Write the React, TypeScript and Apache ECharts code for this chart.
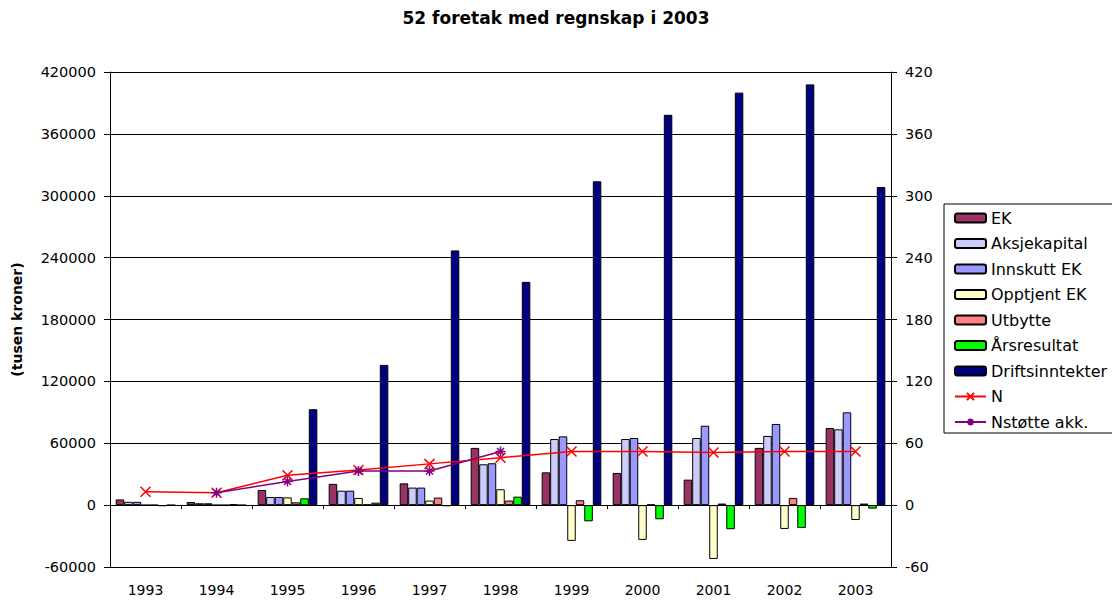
import React, { useEffect, useRef } from "react";
import * as echarts from "echarts";

const years = ["1993", "1994", "1995", "1996", "1997", "1998", "1999", "2000", "2001", "2002", "2003"];
const ek = [5500, 3000, 14700, 20600, 21100, 55500, 31800, 31200, 24700, 55500, 74800];
const aksjekapital = [3200, 1800, 7900, 14000, 17000, 39600, 64100, 64100, 65100, 67100, 73500];
const innskuttEk = [3200, 1800, 7900, 14000, 17000, 40600, 66700, 65100, 77000, 78700, 90000];
const opptjentEk = [0, 0, 7500, 7000, 4400, 15400, -34700, -33700, -52200, -23100, -14400];
const utbytte = [0, 0, 2700, 600, 7300, 4400, 4700, 500, 1500, 7000, 1500];
const arsresultat = [-1000, 800, 6600, 2400, -1000, 8200, -15700, -13700, -23400, -22100, -3400];
const driftsinntekter = [0, 0, 93000, 136000, 247000, 216500, 314000, 378500, 400000, 408000, 308500];
const nFirms = [13, 12, 29, 34, 40, 46, 52, 52, 51, 52, 52];
const nStotte = [null, 12, 23, 33, 33, 52, null, null, null, null, null];

const leftTicks = { min: -60000, max: 420000, interval: 60000 };
const rightTicks = { min: -60, max: 420, interval: 60 };

const FONT = "DejaVu Sans";

export default function App() {
  const ref = useRef<HTMLDivElement>(null);
  useEffect(() => {
    if (!ref.current) return;
    const chart = echarts.init(ref.current, undefined, { renderer: "svg" });
    const barSeries = (name: string, data: number[], color: string) => ({
      name,
      type: "bar",
      data,
      xAxisIndex: 0,
      yAxisIndex: 0,
      barGap: "0%",
      barCategoryGap: "16%",
      itemStyle: { color, borderColor: "#000", borderWidth: 1 },
    });
    chart.setOption({
      animation: false,
      backgroundColor: "#fff",
      textStyle: { fontFamily: FONT },
      title: {
        text: "52 foretak med regnskap i 2003",
        left: "center",
        top: 9,
        padding: 0,
        textStyle: { fontFamily: FONT, fontSize: 17, fontWeight: "bold", color: "#000" },
      },
      legend: {
        orient: "vertical",
        left: 944,
        top: 204,
        padding: [6, 30, 3, 10],
        itemGap: 9.5,
        itemWidth: 31,
        itemHeight: 9,
        borderColor: "#000",
        borderWidth: 1,
        backgroundColor: "#fff",
        textStyle: { fontFamily: FONT, fontSize: 16, color: "#000" },
        data: ["EK", "Aksjekapital", "Innskutt EK", "Opptjent EK", "Utbytte", "Årsresultat", "Driftsinntekter", "N", "Nstøtte akk."],
      },
      grid: { left: 110, right: 221, top: 72, bottom: 33 },
      xAxis: [
        {
          type: "category",
          data: years,
          position: "bottom",
          axisLine: { onZero: false, lineStyle: { color: "#000", width: 1 } },
          axisTick: { show: false },
          axisLabel: { fontFamily: FONT, fontSize: 14, color: "#000", margin: 16 },
        },
        {
          type: "category",
          data: years,
          position: "top",
          axisLine: { onZero: true, lineStyle: { color: "#000", width: 1 } },
          axisTick: { show: true, inside: true, length: 4, lineStyle: { color: "#000" } },
          axisLabel: { show: false },
          splitLine: { show: false },
        },
      ],
      yAxis: [
        {
          type: "value",
          position: "left",
          ...leftTicks,
          name: "(tusen kroner)",
          nameLocation: "middle",
          nameGap: 86,
          nameTextStyle: { fontFamily: FONT, fontSize: 14, fontWeight: "bold", color: "#000" },
          axisLine: { show: true, onZero: false, lineStyle: { color: "#000" } },
          axisTick: { show: true, length: 6, lineStyle: { color: "#000" } },
          axisLabel: { fontFamily: FONT, fontSize: 14.5, color: "#000", margin: 14, formatter: (v: number) => String(v) },
          splitLine: { show: true, lineStyle: { color: "#000", width: 1 } },
        },
        {
          type: "value",
          position: "right",
          ...rightTicks,
          axisLine: { show: true, onZero: false, lineStyle: { color: "#000" } },
          axisTick: { show: true, length: 6, lineStyle: { color: "#000" } },
          axisLabel: { fontFamily: FONT, fontSize: 14.5, color: "#000", margin: 14, formatter: (v: number) => String(v) },
          splitLine: { show: false },
        },
      ],
      series: [
        barSeries("EK", ek, "#993366"),
        barSeries("Aksjekapital", aksjekapital, "#CCCCFF"),
        barSeries("Innskutt EK", innskuttEk, "#9999FF"),
        barSeries("Opptjent EK", opptjentEk, "#FFFFCC"),
        barSeries("Utbytte", utbytte, "#FF8080"),
        barSeries("Årsresultat", arsresultat, "#00FF00"),
        barSeries("Driftsinntekter", driftsinntekter, "#000080"),
        {
          name: "N",
          type: "line",
          data: nFirms,
          xAxisIndex: 0,
          yAxisIndex: 1,
          symbol: "path://M0,0L10,10M10,0L0,10",
          symbolSize: 10,
          lineStyle: { color: "#FF0000", width: 1.5 },
          itemStyle: { color: "#FF0000", borderColor: "#FF0000", borderWidth: 1.5 },
          z: 5,
        },
        {
          name: "Nstøtte akk.",
          type: "line",
          data: nStotte,
          xAxisIndex: 0,
          yAxisIndex: 1,
          symbol: "path://M5,0L5,10M0,5L10,5M1.5,1.5L8.5,8.5M8.5,1.5L1.5,8.5",
          symbolSize: 10,
          connectNulls: false,
          lineStyle: { color: "#800080", width: 1.5 },
          itemStyle: { color: "#800080", borderColor: "#800080", borderWidth: 1.5 },
          z: 5,
        },
      ],
    });
    return () => chart.dispose();
  }, []);
  return <div ref={ref} style={{ width: 1112, height: 600, position: "absolute", left: 0, top: 0 }} />;
}
